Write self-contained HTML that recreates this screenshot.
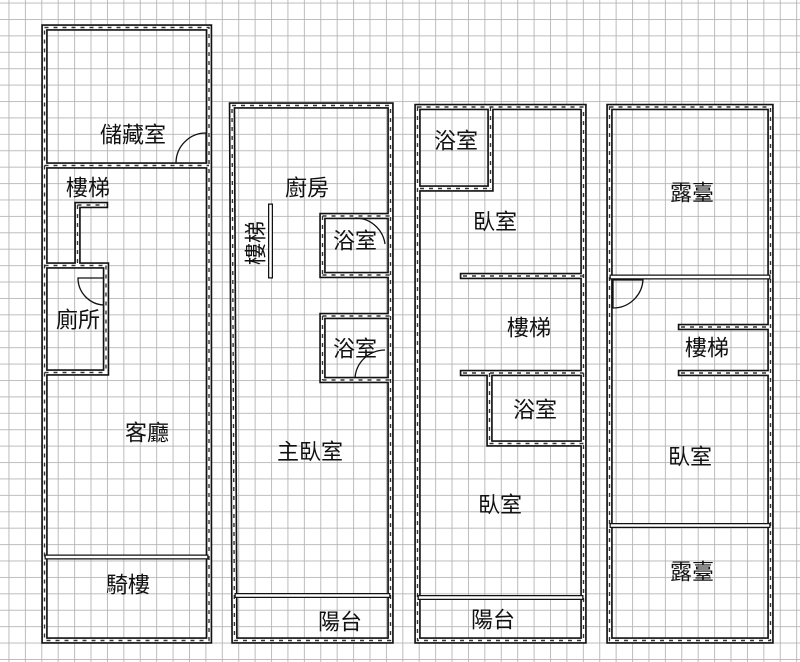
<!DOCTYPE html>
<html><head><meta charset="utf-8"><style>
html,body{margin:0;padding:0;background:#fff;}
svg{display:block;}
text{font-family:"Liberation Sans","Noto Sans CJK TC",sans-serif;font-size:22px;fill:#111;text-anchor:middle;dominant-baseline:central;}
</style></head><body>
<svg width="800" height="662" viewBox="0 0 800 662" xmlns="http://www.w3.org/2000/svg">
<defs>
<pattern id="g" x="8.5" y="2.6" width="16.41" height="16.41" patternUnits="userSpaceOnUse">
<path d="M0 0V16.41M0 0H16.41" stroke="#b5b5b5" stroke-width="1.8" fill="none"/>
</pattern>
</defs>
<rect width="800" height="662" fill="#fff"/>
<rect width="800" height="662" fill="url(#g)"/>

<g id="walls" fill="none" stroke-linejoin="miter" stroke-linecap="square">
<g stroke="#111" stroke-width="6.5">
<path id="w" d="M44.5 27.5H209V640.5H44.5Z M232 105.5H390.5V640.5H234.5Z M417.5 107H583.5V640.5H417.5Z M609.5 107H770.5V640.5H609.5Z
M44.5 165.5H209 M77.5 205H105 M77.5 205V265.5 M44.5 265.5H106 M106 265.5V372.5 M44.5 372.5H106
M322.5 216H390.5 M322.5 216V275 M322.5 275H390.5 M322.5 316H390.5 M322.5 316V380 M322.5 380H390.5
M420 188.5H490.5 M490.5 107V188.5 M463 276H583.5 M463 373H583.5 M489.5 373V443.5 M489.5 443.5H583.5
M681 327H770.5 M681 373H770.5"/>
</g>
<g stroke="#fff" stroke-width="3.2"><use href="#w"/></g>
<g stroke="#333" stroke-width="1.4" stroke-dasharray="4 5" stroke-linecap="butt"><use href="#w"/></g>
<g stroke="#111" stroke-width="5"><path id="t" d="M47 557H206 M237 595.5H388 M420 597.5H581 M612 277H768 M612 525.5H768 M270.5 206V276"/></g>
<g stroke="#fff" stroke-width="2.5"><use href="#t"/></g>
</g>
<g fill="none" stroke="#111" stroke-width="1.3">
<path d="M176 163A30 30 0 0 1 206 133V163"/>
<path d="M104 305A27 27 0 0 1 78 278H104"/>
<path d="M385 244A30 30 0 0 0 355 218"/>
<path d="M355 378A30 30 0 0 1 385 350"/>
<path d="M613 308A30 30 0 0 0 643 280H613Z"/>
</g>

<text x="133" y="135">儲藏室</text>
<text x="88" y="188">樓梯</text>
<text x="78" y="320">廁所</text>
<text x="147" y="433">客廳</text>
<text x="128" y="585">騎樓</text>
<text x="307" y="188">廚房</text>
<text x="0" y="0" transform="translate(256 243) rotate(-90)">樓梯</text>
<text x="355" y="241">浴室</text>
<text x="355" y="349">浴室</text>
<text x="310" y="452">主臥室</text>
<text x="340" y="622">陽台</text>
<text x="456" y="141">浴室</text>
<text x="495" y="222">臥室</text>
<text x="529" y="328">樓梯</text>
<text x="535" y="410">浴室</text>
<text x="500" y="505">臥室</text>
<text x="493" y="620">陽台</text>
<text x="692" y="193">露臺</text>
<text x="707" y="348">樓梯</text>
<text x="690" y="457">臥室</text>
<text x="692" y="572">露臺</text>
</svg>
</body></html>
